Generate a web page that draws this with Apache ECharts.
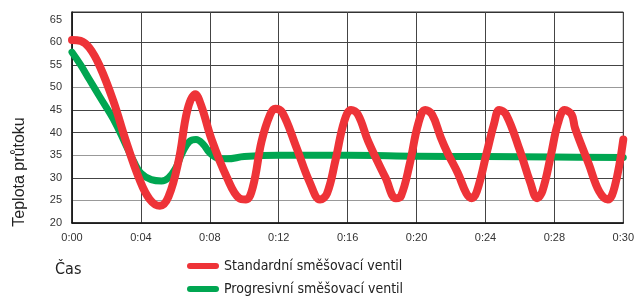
<!DOCTYPE html>
<html>
<head>
<meta charset="utf-8">
<script src="https://cdn.jsdelivr.net/npm/echarts@6/dist/echarts.min.js"></script>
<style>
  html, body { margin: 0; padding: 0; background: #fff; }
  #chart { width: 637px; height: 297px; }
</style>
</head>
<body>
<div id="chart"></div>
<script>
// casova osa (minuty) a popisky tiku
var xTickLabels = ['0:00', '0:04', '0:08', '0:12', '0:16', '0:20', '0:24', '0:28', '0:30'];

// standardni smesovaci ventil
var standardTime = [0, 0.5, 1.0, 1.6, 2.4, 3.1, 3.9, 4.5, 5.1, 5.6, 6.2, 6.7, 7.15, 7.5, 8.1, 9.0, 9.7, 10.1,
  10.5, 11.0, 11.5, 11.8, 12.2, 13.0, 13.8, 14.4, 14.8, 15.3, 15.8, 16.2, 16.6, 17.2, 18.2, 18.8, 19.1,
  19.6, 20.1, 20.5, 20.9, 21.4, 21.8, 22.4, 22.9, 23.2, 23.5, 24.1, 24.5, 24.8, 25.2, 26.0, 26.6, 27.0,
  27.3, 27.8, 28.2, 28.6, 29.0, 29.2, 30.0, 30.6, 31.1, 31.5, 32];
var standardTemp = [60.5, 60.3, 58.8, 54.8, 47, 38.5, 29.8, 25.3, 23.8, 25.8, 34, 45, 48.5, 46, 38.5, 30, 25.5, 25.2,
  28, 38, 44, 45.3, 44.5, 37, 29, 25.2, 26.5, 34, 42.5, 45, 44, 38, 30, 25.5, 26,
  33, 42, 45, 44, 39, 35.5, 31, 26.5, 25.5, 27, 36, 42, 45, 44, 36, 29, 25.5,
  27, 35, 42, 45, 44, 41, 33, 27, 25.2, 28, 38.5];

// progresivni smesovaci ventil
var progresTime = [0, 0.5, 1.0, 1.6, 2.4, 3.1, 3.6, 4.0, 4.6, 5.2, 5.6, 6.0, 6.4, 6.8, 7.2, 7.6, 8.0, 8.5, 9.0,
  10, 12, 16, 20, 24, 28, 32];
var progresTemp = [57.8, 55, 51.8, 48, 43, 37.5, 33.5, 31, 29.6, 29.3, 30, 32, 35.5, 38, 38.5, 37.5, 35.5, 34.3, 34.2,
  34.7, 35, 35, 34.8, 34.7, 34.6, 34.5];

var seriesNames = ['Standardní směšovací ventil', 'Progresivní směšovací ventil'];

function pairs(xs, ys) {
  return xs.map(function (x, i) { return [x, ys[i]]; });
}

var legendFont = '"Liberation Sans Narrow", "DejaVu Sans Condensed", sans-serif';
var pill = 'path://M3,0 H29 A3,3 0 0 1 29,6 H3 A3,3 0 0 1 3,0 Z';

function legendFor(name, top) {
  return {
    left: 182, top: top,
    itemWidth: 32, itemHeight: 6,
    icon: pill,
    textStyle: { fontFamily: legendFont, fontSize: 14, color: '#222' },
    data: [name]
  };
}

var myChart = echarts.init(document.getElementById('chart'));

var option = {
  animation: false,
  grid: {
    left: 72, right: 10, top: 12, bottom: 74,
    show: true, borderColor: '#333', borderWidth: 1
  },
  legend: [legendFor(seriesNames[0], 254), legendFor(seriesNames[1], 277)],
  graphic: [
    {
      type: 'text', left: 55, top: 262,
      style: { text: 'Čas', font: '16px ' + legendFont, fill: '#222' }
    },
    {
      type: 'text', x: 20, y: 172, rotation: Math.PI / 2,
      style: { text: 'Teplota průtoku', font: '16px "Liberation Sans", sans-serif', fill: '#222', align: 'center', verticalAlign: 'middle' }
    }
  ],
  xAxis: {
    type: 'value', min: 0, max: 32, interval: 4,
    axisLine: { lineStyle: { color: '#111', width: 1.5 } },
    axisTick: { show: false },
    axisLabel: {
      margin: 9, color: '#333', fontSize: 11, fontFamily: '"Liberation Sans", sans-serif',
      formatter: function (v) { return xTickLabels[Math.round(v / 4)]; }
    },
    splitLine: { show: true, lineStyle: { color: '#444', width: 1 } }
  },
  yAxis: {
    type: 'value', min: 20, max: 66.7, interval: 5,
    axisLine: { show: true, lineStyle: { color: '#111', width: 1.5 } },
    axisTick: { show: false },
    axisLabel: { margin: 10, color: '#333', fontSize: 11, fontFamily: '"Liberation Sans", sans-serif', showMaxLabel: false },
    splitLine: {
      show: true,
      lineStyle: {
        width: 1,
        color: ['#444', '#999', '#444', '#999', '#444', '#444', '#999', '#444', '#444', 'rgba(0,0,0,0)', '#333']
      }
    }
  },
  series: [
    {
      name: seriesNames[1],
      type: 'line', smooth: 0.4, symbol: 'none',
      color: '#00a651',
      lineStyle: { width: 7, color: '#00a651', cap: 'round', join: 'round' },
      data: pairs(progresTime, progresTemp),
      z: 2
    },
    {
      name: seriesNames[0],
      type: 'line', smooth: 0.4, symbol: 'none',
      color: '#ee3338',
      lineStyle: { width: 8, color: '#ee3338', cap: 'round', join: 'round' },
      data: pairs(standardTime, standardTemp),
      z: 3
    }
  ]
};

myChart.setOption(option);
</script>
</body>
</html>
